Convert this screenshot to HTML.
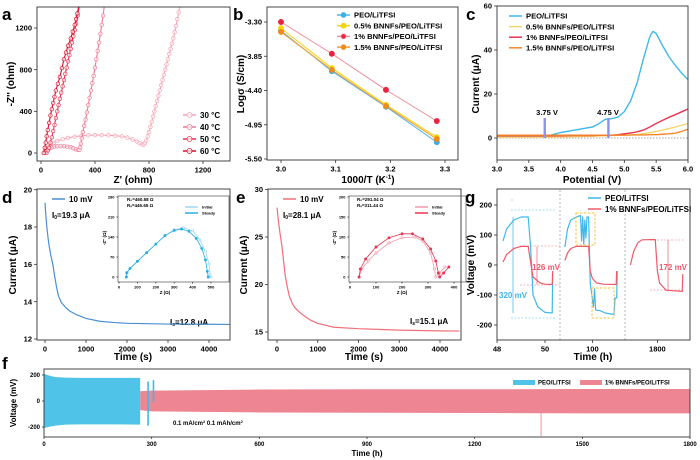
<!DOCTYPE html>
<html><head><meta charset="utf-8"><style>
html,body{margin:0;padding:0;background:#fff;}
svg{display:block;font-family:"Liberation Sans",sans-serif;font-weight:bold;}
</style></head><body>
<svg id="fig" width="700" height="460" viewBox="0 0 700 460" xmlns="http://www.w3.org/2000/svg">
<defs>
<clipPath id="clipA"><rect x="37" y="7" width="193" height="154"/></clipPath>
<clipPath id="clipF"><rect x="44" y="369" width="646" height="68"/></clipPath>
</defs>
<rect x="0" y="0" width="700" height="460" fill="#fff"/>
<text x="2" y="20" font-size="17">a</text>
<text x="233" y="20" font-size="17">b</text>
<text x="466" y="20" font-size="17">c</text>
<text x="2" y="203" font-size="17">d</text>
<text x="236" y="203" font-size="17">e</text>
<text x="465" y="203" font-size="17">g</text>
<text x="2" y="369" font-size="17">f</text>
<text x="133" y="183" font-size="10" text-anchor="middle">Z' (ohm)</text>
<text transform="translate(14,84) rotate(-90)" font-size="10" text-anchor="middle">-Z'' (ohm)</text>
<text x="368" y="183" font-size="10" text-anchor="middle">1000/T (K<tspan font-size="6" dy="-4">-1</tspan><tspan dy="4">)</tspan></text>
<text transform="translate(244,84) rotate(-90)" font-size="10" text-anchor="middle">Logσ (S/cm)</text>
<text x="592" y="183" font-size="10" text-anchor="middle">Potential (V)</text>
<text transform="translate(479,84) rotate(-90)" font-size="10" text-anchor="middle">Current (μA)</text>
<text x="133" y="360" font-size="10" text-anchor="middle">Time (s)</text>
<text transform="translate(16,265) rotate(-90)" font-size="10" text-anchor="middle">Current (μA)</text>
<text x="364" y="360" font-size="10" text-anchor="middle">Time (s)</text>
<text transform="translate(247,265) rotate(-90)" font-size="10" text-anchor="middle">Current (μA)</text>
<text x="593" y="360" font-size="10" text-anchor="middle">Time (h)</text>
<text transform="translate(474,265) rotate(-90)" font-size="10" text-anchor="middle">Voltage (mV)</text>
<text x="367" y="456" font-size="8" text-anchor="middle">Time (h)</text>
<text transform="translate(16,403) rotate(-90)" font-size="8" text-anchor="middle">Voltage (mV)</text>
<text x="52" y="218" font-size="8">I<tspan font-size="5" dy="1">0</tspan><tspan dy="-1">=19.3 μA</tspan></text>
<text x="170" y="325" font-size="8">I<tspan font-size="5" dy="1">s</tspan><tspan dy="-1">=12.8 μA</tspan></text>
<text x="283" y="218" font-size="8">I<tspan font-size="5" dy="1">0</tspan><tspan dy="-1">=28.1 μA</tspan></text>
<text x="410" y="324" font-size="8">I<tspan font-size="5" dy="1">s</tspan><tspan dy="-1">=15.1 μA</tspan></text>
<text x="127" y="201" font-size="4.5">R₀=460.58 Ω</text>
<text x="127" y="207" font-size="4.5">Rₛ=446.65 Ω</text>
<text x="357" y="201" font-size="4.5">R₀=291.04 Ω</text>
<text x="357" y="207" font-size="4.5">Rₛ=311.44 Ω</text>
<text x="547" y="115" font-size="7.5" text-anchor="middle">3.75 V</text>
<text x="608" y="115" font-size="7.5" text-anchor="middle">4.75 V</text>
<text x="532" y="270" font-size="8" fill="#ef5a6a">126 mV</text>
<text x="499" y="298" font-size="8" fill="#3fb4ea">320 mV</text>
<text x="659" y="270" font-size="8" fill="#ef5a6a">172 mV</text>
<text x="173" y="425" font-size="6">0.1 mA/cm<tspan font-size="4" dy="-2">2</tspan><tspan dy="2">   0.1 mAh/cm</tspan><tspan font-size="4" dy="-2">2</tspan></text>
</svg>
<script>
// ---------- DATA ----------
// panel a: Nyquist [Z', -Z'']
const aT30 = [[25,0],[30,20],[40,40],[55,60],[70,80],[95,98],[120,115],[160,132],[200,145],[250,157],[300,165],[350,170],[400,172],[450,172],[500,170],[550,166],[600,160],[640,148],[680,130],[710,110],[730,95],[750,82],[760,80],[770,95],[780,120],[790,160],[800,200],[810,250],[820,300],[830,350],[840,400],[850,450],[860,500],[870,550],[880,600],[890,650],[900,700],[910,750],[920,800],[930,850],[940,900],[950,950],[960,1000],[970,1050],[980,1100],[990,1160],[1000,1220],[1010,1285],[1020,1350],[1030,1420]];
const aT40 = [[30,0],[38,15],[50,30],[65,45],[80,55],[100,62],[120,65],[145,66],[170,65],[195,61],[220,55],[240,46],[260,35],[275,30],[285,30],[290,55],[295,90],[302,140],[310,200],[320,260],[330,320],[340,390],[350,460],[360,530],[370,600],[380,670],[390,740],[400,820],[410,900],[420,980],[430,1060],[440,1145],[450,1230],[460,1320],[470,1420]];
const aT50 = [[40,0],[50,25],[60,50],[70,100],[80,150],[90,210],[100,270],[110,335],[120,400],[130,460],[140,520],[150,580],[160,640],[170,700],[180,760],[190,820],[200,880],[210,940],[220,1000],[230,1060],[240,1120],[250,1180],[260,1240],[272,1320],[285,1420]];
const aT60 = [[20,0],[28,50],[35,100],[42,160],[50,220],[60,290],[70,360],[80,420],[90,480],[100,540],[110,600],[125,665],[140,730],[155,815],[170,900],[185,965],[200,1030],[220,1100],[235,1165],[250,1230],[260,1285],[270,1340],[280,1420]];
const aLabels = ['30 °C','40 °C','50 °C','60 °C'];
const aXTicks = [0,400,800,1200];
const aYTicks = [0,400,800,1200];
// panel b
const bX = [3.0,3.093,3.192,3.285];
const bPEO = [-3.44,-4.09,-4.66,-5.23];
const bB05 = [-3.40,-4.04,-4.63,-5.15];
const bB1 = [-3.30,-3.81,-4.39,-4.89];
const bB15 = [-3.46,-4.07,-4.65,-5.18];
const bLabels = ['PEO/LiTFSI','0.5% BNNFs/PEO/LiTFSI','1% BNNFs/PEO/LiTFSI','1.5% BNNFs/PEO/LiTFSI'];
const bXTicks = [3.0,3.1,3.2,3.3];
const bYTicks = [-3.30,-3.85,-4.40,-4.95,-5.50];
// panel c
const cV = [3.0,3.5,3.7,3.8,4.0,4.2,4.4,4.5,4.6,4.7,4.8,4.9,5.0,5.1,5.2,5.3,5.4,5.45,5.5,5.6,5.7,5.8,5.9,6.0];
const cPEO = [0.3,0.4,0.6,1.0,2.5,3.5,4.5,5.0,6.5,8.5,8.8,9.5,12,17,25,36,46,48.5,47.5,42,37,33,29.5,26.5];
const cB05 = [0.3,0.3,0.3,0.4,0.5,0.6,0.7,0.8,0.9,1.0,1.1,1.2,1.3,1.4,1.6,2.0,2.4,2.7,3.0,3.6,4.3,5.0,5.8,6.5];
const cB1 = [1.0,1.0,1.0,1.0,1.0,1.1,1.1,1.1,1.2,1.2,1.3,1.5,1.9,2.3,2.8,3.6,5.0,5.8,6.6,8.0,9.4,10.6,11.9,13.2];
const cB15 = [1.3,1.3,1.3,1.3,1.3,1.3,1.3,1.3,1.3,1.3,1.3,1.3,1.3,1.4,1.4,1.4,1.5,1.5,1.5,1.7,1.9,2.2,3.0,4.0];
const cXTicks = [3.0,3.5,4.0,4.5,5.0,5.5,6.0];
const cYTicks = [0,20,40,60];
// panel d
const dT = [0,25,50,75,100,140,190,240,280,330,400,500,600,770,1000,1330,1700,2000,3000,4000,4500];
const dI = [19.3,18.5,17.9,17.4,17.0,16.5,16.0,15.3,14.8,14.3,13.95,13.7,13.5,13.3,13.1,12.95,12.88,12.84,12.8,12.79,12.78];
const dInit = [[40,0],[45,15],[60,30],[100,55],[150,85],[200,115],[250,145],[300,165],[350,172],[400,162],[440,130],[470,90],[490,45],[495,10],[500,0]];
const dSteady = [[40,0],[42,15],[60,30],[100,55],[150,85],[200,115],[250,145],[300,163],[340,168],[380,160],[420,135],[450,100],[470,60],[480,20],[485,0]];
const dXTicks = [0,1000,2000,3000,4000];
const dYTicks = [12,14,16,18,20];
// panel e
const eT = [0,20,40,80,120,160,200,250,300,375,450,550,650,800,1000,1400,2000,3000,4000,4480];
const eI = [28.1,27.3,26.5,25.2,24.1,22.5,21.0,19.8,18.8,18.0,17.5,17.1,16.75,16.3,15.9,15.5,15.35,15.2,15.12,15.1];
const eInit = [[35,0],[45,20],[70,40],[100,60],[150,85],[200,98],[250,100],[280,90],[310,60],[325,20],[330,0],[345,10],[365,25]];
const eSteady = [[35,0],[40,20],[60,45],[100,75],[150,98],[200,108],[240,108],[280,95],[310,70],[330,40],[340,10],[345,0],[360,10],[380,25]];
const eXTicks = [0,1000,2000,3000,4000];
const eYTicks = [15,20,25,30];
// panel g: [hours, mV]
const gPEO1 = [[48.25,80],[48.4,120],[48.7,150],[49.0,160],[49.3,160],[49.4,60],[49.5,-100],[49.7,-140],[50.0,-158],[50.3,-160],[50.32,-30]];
const gB1a = [[48.25,10],[48.4,35],[48.7,55],[49.0,62],[49.3,62],[49.4,10],[49.5,-40],[49.8,-60],[50.0,-64],[50.3,-65],[50.32,-20]];
const gPEO2 = [[97.45,60],[97.7,120],[98.0,150],[98.5,160],[98.9,165],[99.0,80],[99.1,160],[99.2,70],[99.3,150],[99.4,90],[99.5,160],[99.65,160],[99.8,-60],[99.95,-100],[100.1,-140],[100.2,-80],[100.3,-150],[100.7,-152],[101.2,-160],[102.0,-165],[102.1,-110],[102.25,-110],[102.3,-20]];
const gB1b = [[97.45,15],[97.7,40],[98.0,55],[98.5,62],[99.65,62],[99.8,-20],[100.0,-45],[100.4,-60],[101.0,-64],[102.2,-65],[102.25,-20]];
const gB1c = [[1797.5,0],[1797.8,45],[1798.2,75],[1798.6,84],[1799.8,85],[1800.0,-20],[1800.2,-60],[1800.8,-84],[1802.3,-88],[1802.35,-30]];
const gYTicks = [-200,-100,0,100,200];
const gXLabels = ['48','50','100','1800'];
const gXTickVals = [48,50,100,1800];
// panel f: band envelopes
const fPEOt = [0,5,15,30,60,100,200,268];
const fPEOup = [210,205,195,185,180,178,178,178];
const fPEOlo = [-210,-205,-198,-190,-182,-180,-180,-182];
const fBt = [268,300,600,900,1200,1500,1800];
const fBup = [75,80,88,90,90,92,92];
const fBlo = [-70,-80,-88,-90,-92,-95,-95];
const fSpikeT = [290,305,1385];
const fSpikeUp = [150,160,0];
const fSpikeLo = [-190,-10,-270];
const fXTicks = [0,300,600,900,1200,1500,1800];
const fYTicks = [-200,0,200];

// ---------- HELPERS ----------
const NS='http://www.w3.org/2000/svg';
const svg=document.getElementById('fig');
function mk(tag,attrs,parent){const e=document.createElementNS(NS,tag);for(const k in attrs)e.setAttribute(k,attrs[k]);(parent||svg).appendChild(e);return e;}
function lin(d0,d1,r0,r1){return v=>r0+(v-d0)*(r1-r0)/(d1-d0);}
function pathOf(pts,sx,sy){return pts.map((p,i)=>(i?'L':'M')+sx(p[0]).toFixed(2)+','+sy(p[1]).toFixed(2)).join('');}
function zip(a,b){return a.map((v,i)=>[v,b[i]]);}
function box(x0,y0,x1,y1,name,sw){
  const r=mk('rect',{x:x0,y:y0,width:x1-x0,height:y1-y0,fill:'none',stroke:'#333','stroke-width':sw||0.9});
  
  
}
function xTicks(vals,sx,y,prefix,fmt,fs,len){
  vals.forEach(v=>{
    const x=sx(v);
    const t=mk('line',{x1:x,x2:x,y1:y,y2:y+(len||3),stroke:'#333','stroke-width':0.8});
    
    
    const l=mk('text',{x:x,y:y+(len||3)+(fs||7.5)+1,'font-size':fs||7.5,'text-anchor':'middle'});
    l.textContent=fmt?fmt(v):String(v);
    
    
  });
}
function yTicks(vals,sy,x,prefix,fmt,fs,len){
  vals.forEach(v=>{
    const y=sy(v);
    const t=mk('line',{x1:x-(len||3),x2:x,y1:y,y2:y,stroke:'#333','stroke-width':0.8});
    
    
    const l=mk('text',{x:x-(len||3)-2,y:y+(fs||7.5)*0.35,'font-size':fs||7.5,'text-anchor':'end'});
    l.textContent=fmt?fmt(v):String(v);
    
    
  });
}
function line(pts,sx,sy,color,w,name,parent,extra){
  const p=mk('path',Object.assign({d:pathOf(pts,sx,sy),fill:'none',stroke:color,'stroke-width':w,'stroke-linejoin':'round'},extra||{}),parent);
  
  
  return p;
}
function markers(pts,sx,sy,color,r,fill,name,parent){
  pts.forEach(pt=>{
    const c=mk('circle',{cx:sx(pt[0]),cy:sy(pt[1]),r:r,fill:fill,stroke:color,'stroke-width':0.7},parent);
    
    
  });
}
function legendLine(x,y,color,label,fs,name,marker){
  const l=mk('line',{x1:x,x2:x+13,y1:y,y2:y,stroke:color,'stroke-width':1.5});
  
  
  if(marker){
    const c=mk('circle',{cx:x+6.5,cy:y,r:2.5,fill:marker,stroke:color,'stroke-width':0.7});
    
    
  }
  const t=mk('text',{x:x+17,y:y+fs*0.35,'font-size':fs});
  t.textContent=label;
  
  
}

// ---------- PANEL A ----------
(function(){
  const sx=lin(0,1200,41,203), sy=lin(0,1200,153,28);
  const g=mk('g',{'clip-path':'url(#clipA)'});
  
  
  const series=[aT30,aT40,aT50,aT60];
  const cols=['#f5a3b5','#ee7b95','#e8344f','#d4112c'];
  series.forEach((s,i)=>{
    line(s,sx,sy,cols[i],1.1,'a-series-'+aLabels[i].replace(/\D/g,'')+'c',g);
    markers(s,sx,sy,cols[i],1.8,'rgba(255,255,255,0.6)','a-marker',g);
  });
  box(37,7,230,161,'a-plot-frame');
  xTicks(aXTicks,sx,161,'a');
  yTicks(aYTicks,sy,37,'a');
  aLabels.forEach((lb,i)=>legendLine(183,115+i*12,cols[i],lb,8,'a-legend-entry','rgba(255,255,255,0.7)'));
})();

// ---------- PANEL B ----------
(function(){
  const sx=lin(3.0,3.3,281,445), sy=lin(-3.30,-5.50,22,159);
  const series=[bPEO,bB05,bB1,bB15];
  const lcols=['#4db8ea','#f5d20a','#f08c98','#f39c34'];
  const mcols=['#3aaee6','#f5d60a','#e8233f','#f08a1c'];
  series.forEach((s,i)=>{
    line(zip(bX,s),sx,sy,lcols[i],1,'b-series-'+i);
  });
  series.forEach((s,i)=>{
    markers(zip(bX,s),sx,sy,mcols[i],2.6,mcols[i],'b-marker');
  });
  box(267,7,458,160,'b-plot-frame');
  xTicks(bXTicks,sx,160,'b',v=>v.toFixed(1));
  yTicks(bYTicks,sy,267,'b',v=>v.toFixed(2));
  bLabels.forEach((lb,i)=>legendLine(337,15+i*10.7,lcols[i],lb,7.6,'b-legend-entry',mcols[i]));
})();

// ---------- PANEL C ----------
(function(){
  const sx=lin(3,6,497,688), sy=lin(0,60,138,6);
  const z=mk('line',{x1:497,x2:688,y1:sy(0),y2:sy(0),stroke:'#888','stroke-width':0.7,'stroke-dasharray':'1.5,1.5'});
  
  
  const cols=['#3fb9ea','#f8d56a','#e8344f','#f5862a'];
  [cPEO,cB05,cB1,cB15].forEach((s,i)=>line(zip(cV,s),sx,sy,cols[i],1.4,'c-series-'+i));
  [3.75,4.75].forEach(v=>{
    const a=mk('rect',{x:sx(v)-1.2,y:118,width:2.4,height:sy(0)-118,fill:'#8b93ee'});
    
    
  });
  box(497,6,688,160,'c-plot-frame');
  xTicks(cXTicks,sx,160,'c',v=>v.toFixed(1));
  yTicks(cYTicks,sy,497,'c');
  bLabels.forEach((lb,i)=>legendLine(509,16+i*10.6,cols[i],lb,7.6,'c-legend-entry'));
})();

// ---------- PANEL D ----------
(function(){
  const sx=lin(0,4000,45,209), sy=lin(12,18,339,227);
  line(zip(dT,dI),sx,sy,'#4a8fd0',1.2,'d-current-curve');
  box(37,189,230,340,'d-plot-frame');
  xTicks(dXTicks,sx,340,'d');
  yTicks(dYTicks,sy,37,'d');
  legendLine(52,199,'#4a8fd0','10 mV',8,'d-legend-entry');
  const ix=lin(0,500,119,211), iy=lin(0,280,277,197);
  box(118,196,229,282,'d-inset-frame',0.6);
  line(dInit,ix,iy,'#9fd8f2',0.8,'d-inset-initial');
  markers(dInit,ix,iy,'#9fd8f2',1.1,'#fff','d-inset-marker');
  line(dSteady,ix,iy,'#2aaee6',0.8,'d-inset-steady');
  markers(dSteady,ix,iy,'#2aaee6',1.1,'#2aaee6','d-inset-marker');
  xTicks([0,100,200,300,400,500],ix,282,'d-inset',null,4,1.5);
  yTicks([0,70,140,210,280],iy,118,'d-inset',null,4,1.5);
  const xt=mk('text',{x:165,y:294,'font-size':4.5,'text-anchor':'middle'}); xt.textContent='Z (Ω)';
  
  
  const yt=mk('text',{transform:'translate(106,238) rotate(-90)','font-size':4.5,'text-anchor':'middle'}); yt.textContent="-Z'' (Ω)";
  
  
  legendLine(185,207,'#9fd8f2','Initial',4,'d-inset-legend');
  legendLine(185,213,'#2aaee6','Steady',4,'d-inset-legend');
})();

// ---------- PANEL E ----------
(function(){
  const sx=lin(0,4000,277,440), sy=lin(15,25,332,237);
  line(zip(eT,eI),sx,sy,'#f0707a',1.2,'e-current-curve');
  box(268,189,461,340,'e-plot-frame');
  xTicks(eXTicks,sx,340,'e');
  yTicks(eYTicks,sy,268,'e');
  legendLine(283,199,'#f0707a','10 mV',8,'e-legend-entry');
  const ix=lin(100,400,376,454), iy=lin(0,200,277,197);
  box(349,196,466,282,'e-inset-frame',0.6);
  line(eInit,ix,iy,'#f39aaa',0.8,'e-inset-initial');
  markers(eInit,ix,iy,'#f39aaa',1.1,'#fff','e-inset-marker');
  line(eSteady,ix,iy,'#e8344f',0.8,'e-inset-steady');
  markers(eSteady,ix,iy,'#e8344f',1.1,'#e8344f','e-inset-marker');
  xTicks([0,100,200,300,400],ix,282,'e-inset',null,4,1.5);
  yTicks([0,50,100,150,200],iy,349,'e-inset',null,4,1.5);
  const xt=mk('text',{x:402,y:294,'font-size':4.5,'text-anchor':'middle'}); xt.textContent='Z (Ω)';
  
  
  const yt=mk('text',{transform:'translate(336,238) rotate(-90)','font-size':4.5,'text-anchor':'middle'}); yt.textContent="-Z'' (Ω)";
  
  
  legendLine(415,207,'#f39aaa','Initial',4,'e-inset-legend');
  legendLine(415,213,'#e8344f','Steady',4,'e-inset-legend');
})();

// ---------- PANEL G ----------
(function(){
  const sy=lin(0,200,265,205);
  function sx(t){ if(t<60) return 497+(t-48)*24; if(t<1000) return 560+(t-97)*10.8; return 625+(t-1797)*10.8; }
  [560,625].forEach(x=>{
    const d=mk('line',{x1:x,x2:x,y1:190,y2:340,stroke:'#999','stroke-width':0.7,'stroke-dasharray':'2,2'});
    
    
  });
  const guides=[[511,514,200,200],[511,555,210,210],[511,555,318,318],[520,560,246,246],[520,560,285,285],[650,685,240,240],[650,685,290,290]];
  guides.forEach((gd,i)=>{
    const l=mk('line',{x1:gd[0],x2:gd[1],y1:gd[2],y2:gd[3],stroke:i<3?'#8fd3f2':'#f5a0a8','stroke-width':0.7,'stroke-dasharray':'2,1.5'});
    
    
  });
  [[513,sy(160),sy(-160),'#3fb4ea'],[537,sy(62),sy(-65),'#ef5a6a'],[668,sy(85),sy(-88),'#ef5a6a']].forEach(a=>{
    const l=mk('line',{x1:a[0],x2:a[0],y1:a[1],y2:a[2],stroke:a[3],'stroke-width':0.7});
    
    
  });
  line(gPEO1,sx,sy,'#3fb9ea',1.2,'g-peo-segment-1');
  line(gPEO2,sx,sy,'#3fb9ea',1.2,'g-peo-segment-2');
  line(gB1a,sx,sy,'#ef5a6a',1.2,'g-bnnf-segment-1');
  line(gB1b,sx,sy,'#ef5a6a',1.2,'g-bnnf-segment-2');
  line(gB1c,sx,sy,'#ef5a6a',1.2,'g-bnnf-segment-3');
  [[576,213,19,32],[592,288,22,30]].forEach(b=>{
    const r=mk('rect',{x:b[0],y:b[1],width:b[2],height:b[3],fill:'none',stroke:'#f5c342','stroke-width':1,'stroke-dasharray':'2.5,1.5'});
    
    
  });
  box(497,189,690,340,'g-plot-frame');
  yTicks(gYTicks,sy,497,'g');
  gXTickVals.forEach((v,i)=>{
    const x=sx(v);
    const t=mk('line',{x1:x,x2:x,y1:340,y2:343,stroke:'#333','stroke-width':0.8});
    
    
    const l=mk('text',{x:x,y:351.5,'font-size':7.5,'text-anchor':'middle'});
    l.textContent=gXLabels[i];
    
    
  });
  legendLine(588,198,'#3fb9ea','PEO/LiTFSI',8,'g-legend-entry');
  legendLine(588,209,'#ef5a6a','1% BNNFs/PEO/LiTFSI',8,'g-legend-entry');
})();

// ---------- PANEL F ----------
(function(){
  const sx=lin(0,1800,44,690), sy=lin(0,200,401,375);
  const g=mk('g',{'clip-path':'url(#clipF)'});
  
  
  const band=(t,up,lo)=>zip(t,up).concat(zip(t,lo).reverse());
  const rb=mk('path',{d:pathOf(band(fBt,fBup,fBlo),sx,sy)+'Z',fill:'#ee8593'},g);
  
  
  const pb=mk('path',{d:pathOf(band(fPEOt,fPEOup,fPEOlo),sx,sy)+'Z',fill:'#4fc3e8'},g);
  
  
  fSpikeT.forEach((t,i)=>{
    const s=mk('line',{x1:sx(t),x2:sx(t),y1:sy(fSpikeUp[i]),y2:sy(fSpikeLo[i]),stroke:i<2?'#3fb9ea':'#ee8593','stroke-width':i<2?1.6:0.9},g);
    
    
  });
  box(44,369,690,437,'f-plot-frame');
  xTicks(fXTicks,sx,437,'f',null,6,2);
  yTicks(fYTicks,sy,44,'f',null,6,2);
  [[513,'#4fc3e8','PEO/LiTFSI'],[580,'#ee8593','1% BNNFs/PEO/LiTFSI']].forEach(e=>{
    const r=mk('rect',{x:e[0],y:380,width:22,height:5,fill:e[1]});
    
    
    const t=mk('text',{x:e[0]+25,y:384.5,'font-size':6});
    t.textContent=e[2];
    
    
  });
})();
</script>
</body></html>
